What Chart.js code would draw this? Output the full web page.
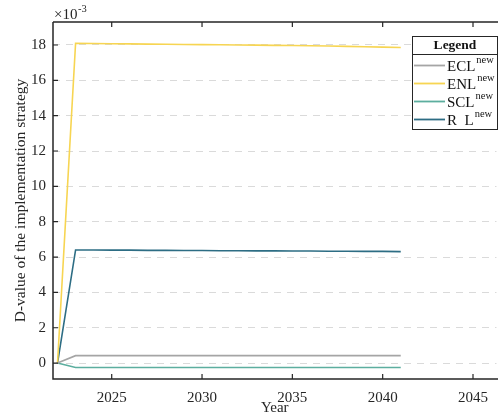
<!DOCTYPE html>
<html><head><meta charset="utf-8">
<script src="https://cdn.jsdelivr.net/npm/chart.js@4/dist/chart.umd.min.js"></script>
<style>html,body{margin:0;padding:0;background:#fff;}#wrap{width:498px;height:417px;position:relative;}</style>
</head><body><div id="wrap"><canvas id="c"></canvas></div>
<script>
const years = [2022,2023,2024,2025,2026,2027,2028,2029,2030,2031,2032,2033,2034,2035,2036,2037,2038,2039,2040,2041];
const seriesNames = ["ECL","ENL","SCL","R  L"];
const seriesSup = "new";
const ecl = [0,0.42,0.42,0.42,0.42,0.42,0.42,0.42,0.42,0.42,0.42,0.42,0.42,0.42,0.42,0.42,0.42,0.42,0.42,0.42];
const enl = [0,18.10,18.08,18.07,18.06,18.05,18.04,18.03,18.02,18.01,18.00,17.99,17.98,17.97,17.96,17.94,17.92,17.90,17.88,17.86];
const scl = [0,-0.25,-0.25,-0.25,-0.25,-0.25,-0.25,-0.25,-0.25,-0.25,-0.25,-0.25,-0.25,-0.25,-0.25,-0.25,-0.25,-0.25,-0.25,-0.25];
const rl  = [0,6.40,6.40,6.39,6.39,6.38,6.38,6.37,6.37,6.36,6.36,6.35,6.35,6.34,6.34,6.33,6.33,6.32,6.32,6.31];
const xTicks = [2025,2030,2035,2040,2045];
const yTicks = [0,2,4,6,8,10,12,14,16,18];
const colors = ["#a5a5a5","#f7d552","#5cae9f","#2d6d84"];
const FONT = "'Liberation Serif','DejaVu Serif',serif";
const AX = "#262626";

const allSeries = [ecl,enl,scl,rl];
const datasets = allSeries.map((s,i)=>({
  label: seriesNames[i],
  data: s.map((v,j)=>({x:years[j],y:v})),
  borderColor: colors[i], backgroundColor: colors[i],
  borderWidth: 1.6, pointRadius: 0, tension: 0, fill:false
}));

const decor = {
  id:'decor',
  afterDraw(chart){
    const {ctx, chartArea:a, scales:{x,y}} = chart;
    ctx.save();
    ctx.strokeStyle = AX; ctx.lineWidth = 1.5;
    ctx.beginPath();
    ctx.moveTo(a.left, a.top); ctx.lineTo(a.right+2, a.top);
    ctx.moveTo(a.left, a.top); ctx.lineTo(a.left, a.bottom);
    ctx.lineTo(a.right+2, a.bottom);
    ctx.stroke();
    ctx.lineWidth = 1.2;
    ctx.beginPath();
    xTicks.forEach(v=>{const px=x.getPixelForValue(v);
      ctx.moveTo(px,a.bottom); ctx.lineTo(px,a.bottom-5);
      ctx.moveTo(px,a.top); ctx.lineTo(px,a.top+5);});
    yTicks.forEach(v=>{const py=y.getPixelForValue(v);
      ctx.moveTo(a.left,py); ctx.lineTo(a.left+5,py);});
    ctx.stroke();
    ctx.fillStyle = AX;
    ctx.font = "15px "+FONT; ctx.textBaseline='alphabetic'; ctx.textAlign='left';
    ctx.fillText("\u00d710", a.left+1, a.top-3);
    const w = ctx.measureText("\u00d710").width;
    ctx.font = "10.5px "+FONT;
    ctx.fillText("-3", a.left+1+w+0.5, a.top-10);
    const bx=412, by=36, bw=86, bh=93;
    ctx.fillStyle="#fff"; ctx.fillRect(bx,by,bw,bh);
    ctx.strokeStyle=AX; ctx.lineWidth=1;
    ctx.strokeRect(bx+0.5,by+0.5,bw-1,bh);
    ctx.beginPath(); ctx.moveTo(bx,by+18.5); ctx.lineTo(bx+bw,by+18.5); ctx.stroke();
    ctx.fillStyle="#111"; ctx.font="bold 13.5px "+FONT; ctx.textAlign='center'; ctx.textBaseline='middle';
    ctx.fillText("Legend", bx+bw/2, by+10);
    chart.data.datasets.forEach((ds,i)=>{
      const ry = by+29.5+i*18;
      ctx.strokeStyle=ds.borderColor; ctx.lineWidth=1.8;
      ctx.beginPath(); ctx.moveTo(bx+2,ry); ctx.lineTo(bx+33,ry); ctx.stroke();
      ctx.fillStyle="#111"; ctx.textAlign='left'; ctx.textBaseline='alphabetic';
      ctx.font="15px "+FONT;
      ctx.fillText(ds.label, bx+35, ry+5);
      const tw = ctx.measureText(ds.label).width;
      ctx.font="10.5px "+FONT;
      ctx.fillText(seriesSup, bx+35+tw+1, ry-3);
    });
    ctx.restore();
  }
};

new Chart(document.getElementById('c'), {
  type:'line',
  data:{datasets},
  plugins:[decor],
  options:{
    responsive:true, maintainAspectRatio:false, animation:false,
    layout:{padding:{top:22,right:0,left:0,bottom:0}},
    plugins:{legend:{display:false}, tooltip:{enabled:false}},
    scales:{
      x:{type:'linear', min:2021.75, max:2046.3,
        afterBuildTicks(s){ s.ticks = xTicks.map(v=>({value:v})); },
        afterFit(s){ s.height = 38; },
        grid:{display:false, drawTicks:false},
        border:{display:false},
        ticks:{padding:10, color:AX, font:{family:FONT,size:15}, maxRotation:0, callback:v=>String(v)},
        title:{display:true, text:'Year', color:AX, font:{family:FONT,size:15}, padding:{top:0,bottom:0}}
      },
      y:{type:'linear', min:-0.9, max:19.3,
        afterBuildTicks(s){ s.ticks = yTicks.map(v=>({value:v})); },
        afterFit(s){ s.width = 53; },
        grid:{color:'#dadada', lineWidth:1, drawTicks:false},
        border:{display:false, dash:[7,6]},
        ticks:{padding:7, color:AX, font:{family:FONT,size:15}, callback:v=>String(v)},
        title:{display:true, text:'D-value of the implementation strategy', color:AX, font:{family:FONT,size:15.5}, padding:{top:12,bottom:0}}
      }
    }
  }
});
</script></body></html>
